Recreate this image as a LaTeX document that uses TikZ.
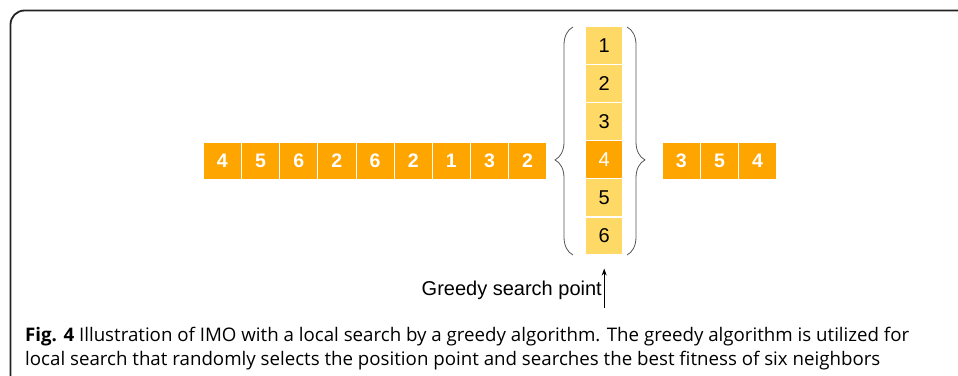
\documentclass[tikz,border=0pt]{standalone}
\usepackage{fontspec}
\setmainfont{Liberation Sans}
\newfontfamily\capfont{Open Sans}
\usetikzlibrary{decorations.pathreplacing,arrows.meta}
\definecolor{genorange}{HTML}{FFA500}
\definecolor{genlight}{HTML}{FFD966}
\definecolor{framegray}{HTML}{222222}
\definecolor{bracegray}{HTML}{555555}
\tikzset{
  gene/.style={rectangle, fill=genorange, draw=white, line width=0.8pt,
    minimum width=38.16pt, minimum height=36.3pt, inner sep=0pt,
    text=white, font=\fontsize{19.5}{19.5}\selectfont\bfseries},
  cand/.style={rectangle, fill=genlight, draw=white, line width=1.2pt,
    minimum width=37pt, minimum height=38.05pt, inner sep=0pt,
    text=black, font=\fontsize{20}{20}\selectfont},
  picked/.style={cand, fill=genorange, text=white},
  bracepath/.style={draw=bracegray, line width=0.8pt,
    decorate, decoration={brace, amplitude=18pt}},
  captext/.style={anchor=base west, inner sep=0pt, text=black,
    font=\capfont\fontsize{18.7}{18.7}\selectfont}
}
\begin{document}
\begin{tikzpicture}[x=1pt, y=-1pt]
\useasboundingbox (0,0) rectangle (958,375);
% open frame of the figure panel
\draw[framegray, line width=1.8pt, rounded corners=14pt]
  (10.5,376) -- (10.5,10.5) -- (960,10.5);
% chromosome, left part
\foreach \v [count=\i] in {4,5,6,2,6,2,1,3,2}
  \node[gene] (r\i) at ({203.3+19.08+38.16*(\i-1)},160.9) {\v};
% candidate values at the search point
\foreach \v [count=\i] in {1,2,3,4,5,6}
  \node[cand] (c\i) at (604.2,{45.7+38.05*(\i-1)}) {\v};
\node[picked] at (c4) {4};
% chromosome, right part
\foreach \v [count=\i] in {3,5,4}
  \node[gene] (s\i) at ({681.4+38.13*(\i-1)},160.9) {\v};
% braces round the candidates
\draw[bracepath, decoration={aspect=0.417}] (573,255) -- (573,27);
\draw[bracepath, decoration={aspect=0.583}] (627,27) -- (627,255);
% search point marker
\coordinate (arrbase) at (604.2,308);
\draw[-{Stealth[length=7pt,width=5pt]}, line width=0.7pt]
  (arrbase) -- ([yshift=-13pt]c6.south);
\node[anchor=east, inner sep=0pt, font=\fontsize{20}{20}\selectfont]
  (glabel) at (602,290) {Greedy search point};
% caption
\node[captext] (cap1) at (25,341)
  {\textbf{Fig. 4} Illustration of IMO with a local search by a greedy algorithm. The greedy algorithm is utilized for};
\node[captext] (cap2) at (25,365.7)
  {local search that randomly selects the position point and searches the best fitness of six neighbors};
\end{tikzpicture}
\end{document}
